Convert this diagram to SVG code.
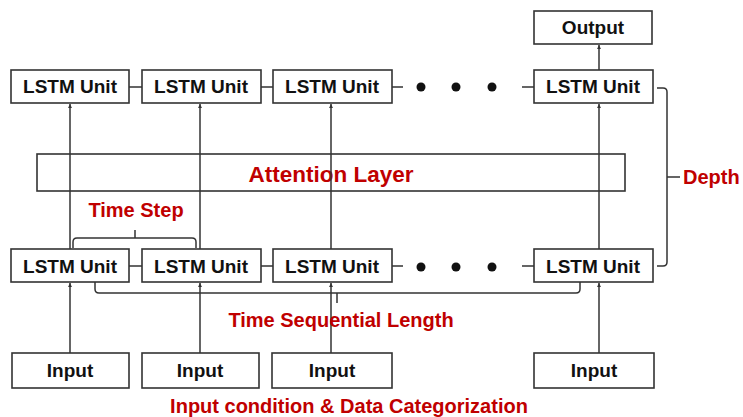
<svg xmlns="http://www.w3.org/2000/svg" width="743" height="417" viewBox="0 0 743 417">
<defs>
<style>
.box{fill:#fff;stroke:#333;stroke-width:1.6}
.lbl{font-family:"Liberation Sans",Arial,sans-serif;font-weight:bold;font-size:19px;fill:#111;text-anchor:middle}
.red{font-family:"Liberation Sans",Arial,sans-serif;font-weight:bold;font-size:20px;fill:#c00000;text-anchor:middle}
.ln{fill:none;stroke:#333;stroke-width:1.5}
.dot{fill:#111}
</style>
<marker id="ah" viewBox="0 0 6 6" refX="6" refY="3" markerWidth="2.6" markerHeight="2.6" orient="auto">
<path d="M0,0 L6,3 L0,6 z" fill="#333"/>
</marker>
</defs>
<rect width="743" height="417" fill="#fff"/>

<g id="attention-layer">
<rect x="37" y="154" width="588" height="37" fill="none" stroke="#333" stroke-width="1.6"/>
<text class="red" x="331" y="182" style="font-size:22.5px">Attention Layer</text>
</g>

<g id="connectors">
<path class="ln" d="M70,249 V104" marker-end="url(#ah)"/>
<path class="ln" d="M200,249 V104" marker-end="url(#ah)"/>
<path class="ln" d="M331,249 V104" marker-end="url(#ah)"/>
<path class="ln" d="M599,249 V104" marker-end="url(#ah)"/>
<path class="ln" d="M599,70 V45" marker-end="url(#ah)"/>
<path class="ln" d="M70,353 V283" marker-end="url(#ah)"/>
<path class="ln" d="M200,353 V283" marker-end="url(#ah)"/>
<path class="ln" d="M331,353 V283" marker-end="url(#ah)"/>
<path class="ln" d="M599,353 V283" marker-end="url(#ah)"/>
<path class="ln" d="M129,87 H142 M261,87 H273 M392,87 H403 M522,87 H534"/>
<path class="ln" d="M129,266 H142 M261,266 H273 M392,266 H403 M522,266 H534"/>
</g>

<g id="output">
<rect class="box" x="534" y="11" width="118" height="33"/>
<text class="lbl" x="593" y="34">Output</text>
</g>

<g id="lstm-top-1"><rect class="box" x="11" y="70" width="118" height="33"/><text class="lbl" x="70" y="93">LSTM Unit</text></g>
<g id="lstm-top-2"><rect class="box" x="142" y="70" width="119" height="33"/><text class="lbl" x="201" y="93">LSTM Unit</text></g>
<g id="lstm-top-3"><rect class="box" x="273" y="70" width="119" height="33"/><text class="lbl" x="332" y="93">LSTM Unit</text></g>
<g id="dots-top"><circle class="dot" cx="421" cy="87" r="4.5"/><circle class="dot" cx="456" cy="87" r="4.5"/><circle class="dot" cx="492" cy="87" r="4.5"/></g>
<g id="lstm-top-4"><rect class="box" x="534" y="70" width="119" height="33"/><text class="lbl" x="593" y="93">LSTM Unit</text></g>

<g id="lstm-bot-1"><rect class="box" x="11" y="249" width="118" height="33"/><text class="lbl" x="70" y="273">LSTM Unit</text></g>
<g id="lstm-bot-2"><rect class="box" x="142" y="249" width="119" height="33"/><text class="lbl" x="201" y="273">LSTM Unit</text></g>
<g id="lstm-bot-3"><rect class="box" x="273" y="249" width="119" height="33"/><text class="lbl" x="332" y="273">LSTM Unit</text></g>
<g id="dots-bot"><circle class="dot" cx="421" cy="267" r="4.5"/><circle class="dot" cx="456" cy="267" r="4.5"/><circle class="dot" cx="492" cy="267" r="4.5"/></g>
<g id="lstm-bot-4"><rect class="box" x="534" y="249" width="119" height="33"/><text class="lbl" x="593" y="273">LSTM Unit</text></g>

<g id="input-1"><rect class="box" x="12" y="353" width="117" height="35"/><text class="lbl" x="70" y="377">Input</text></g>
<g id="input-2"><rect class="box" x="142" y="353" width="117" height="35"/><text class="lbl" x="200" y="377">Input</text></g>
<g id="input-3"><rect class="box" x="272" y="353" width="120" height="35"/><text class="lbl" x="332" y="377">Input</text></g>
<g id="input-4"><rect class="box" x="534" y="353" width="120" height="35"/><text class="lbl" x="594" y="377">Input</text></g>

<g id="time-step">
<path class="ln" d="M73,248 V242 Q73,238 77,238 H192 Q196,238 196,242 V248 M135,238 V230"/>
<text class="red" x="136" y="217">Time Step</text>
</g>

<g id="time-sequential-length">
<path class="ln" d="M95,282 V289 Q95,293 99,293 H576 Q580,293 580,289 V282 M337,293 V303"/>
<text class="red" x="341" y="327">Time Sequential Length</text>
</g>

<g id="depth">
<path class="ln" d="M657,88 H663 Q667,88 667,92 V262 Q667,266 663,266 H657 M667,177 H680"/>
<text class="red" x="683" y="184" style="text-anchor:start">Depth</text>
</g>

<g id="input-caption">
<text class="red" x="349" y="413">Input condition &amp; Data Categorization</text>
</g>
</svg>
